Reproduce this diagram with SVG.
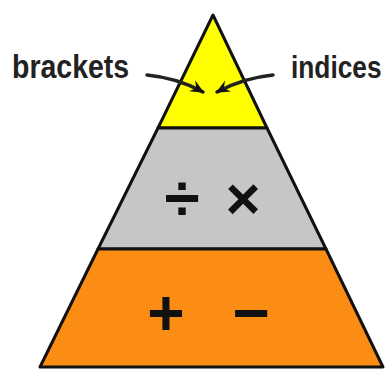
<svg xmlns="http://www.w3.org/2000/svg" width="389" height="372" viewBox="0 0 389 372">
<defs>
<style>
.tier{stroke:#111;stroke-width:3;stroke-linejoin:round}
.lbl{font-family:"Liberation Sans",Arial,sans-serif;font-weight:bold;fill:#222}
.op{font-family:"Liberation Sans",Arial,sans-serif;font-weight:bold;fill:#111;text-anchor:middle}
.conn{fill:none;stroke:#222;stroke-width:3.5;stroke-linecap:round}
</style>
<marker id="ah" viewBox="0 0 10 10" refX="9" refY="5" markerWidth="4" markerHeight="4" orient="auto">
<path d="M0,0.5 L10,5 L0,9.5 L3.5,5 Z" fill="#111"/>
</marker>
</defs>
<rect width="389" height="372" fill="#fff"/>
<g id="tier-top">
<polygon class="tier" points="213,15 267,128 158,128" fill="#FFFF00"/>
</g>
<g id="tier-middle">
<polygon class="tier" points="158,128 267,128 326,249 98,249" fill="#C6C6C6"/>
<text class="op" x="182" y="220" font-size="64">÷</text>
<text class="op" x="243" y="219" font-size="60">×</text>
</g>
<g id="tier-bottom">
<polygon class="tier" points="98,249 326,249 383,367 40,367" fill="#FB8C14"/>
<text class="op" x="166" y="335" font-size="64">+</text>
<text class="op" x="251" y="335" font-size="64">−</text>
</g>
<g id="label-brackets">
<text class="lbl" transform="translate(12,78) scale(1,1.18)" x="0" y="0" font-size="28.5">brackets</text>
</g>
<g id="label-indices">
<text class="lbl" transform="translate(291,78) scale(1,1.2)" x="0" y="0" font-size="26.3">indices</text>
</g>
<g id="connectors">
<path class="conn" d="M147,75 Q178,78 203,92" marker-end="url(#ah)"/>
<path class="conn" d="M273,75 Q243,78 217,92" marker-end="url(#ah)"/>
</g>
</svg>
